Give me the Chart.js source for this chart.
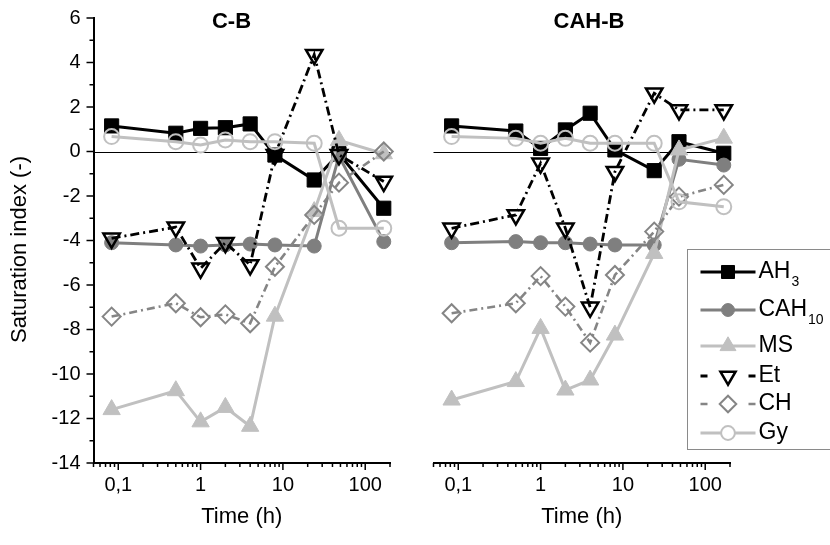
<!DOCTYPE html>
<html>
<head>
<meta charset="utf-8">
<script src="https://cdn.jsdelivr.net/npm/chart.js@4"></script>
<style>
  html, body { margin: 0; padding: 0; background: #fff; }
  #wrap { position: relative; width: 830px; height: 545px; overflow: hidden; }
  canvas { position: absolute; top: 0; }
</style>
</head>
<body>
<div id="wrap">
  <canvas id="c1" width="415" height="545" style="left:0"></canvas>
  <canvas id="c2" width="415" height="545" style="left:415px"></canvas>
</div>
<script>
// ---------- DATA ----------
const timeH = [0.083, 0.5, 1, 2, 4, 8, 24, 48, 168];

const panelTitles = ['C-B', 'CAH-B'];
const seriesNames = ['AH', 'CAH', 'MS', 'Et', 'CH', 'Gy'];
const seriesSubs  = ['3', '10', '', '', '', ''];

// C-B panel
const AH3_CB   = [1.15, 0.82, 1.04, 1.07, 1.24, -0.16, -1.28, -0.1, -2.55];
const CAH10_CB = [-4.1, -4.2, -4.25, -4.2, -4.16, -4.2, -4.25, -0.2, -4.05];
const MS_CB    = [-11.6, -10.75, -12.15, -11.5, -12.35, -7.4, -2.7, 0.5, -0.1];
const Et_CB    = [-3.9, -3.4, -5.25, -4.1, -5.1, -0.15, 4.35, -0.15, -1.35];
const CH_CB    = [-7.42, -6.82, -7.45, -7.32, -7.72, -5.18, -2.85, -1.4, 0.0];
const Gy_CB    = [0.67, 0.44, 0.29, 0.52, 0.44, 0.44, 0.37, -3.45, -3.45];

// CAH-B panel
const AH3_CAHB   = [1.15, 0.92, 0.14, 0.97, 1.72, 0.07, -0.86, 0.44, -0.08];
const CAH10_CAHB = [-4.1, -4.05, -4.1, -4.1, -4.16, -4.2, -4.2, -0.35, -0.61];
const MS_CAHB    = [-11.17, -10.34, -7.95, -10.72, -10.27, -8.25, -4.58, 0.07, 0.6];
const Et_CAHB    = [-3.45, -2.85, -0.53, -3.45, -7.0, -0.91, 2.62, 1.87, 1.87];
const CH_CAHB    = [-7.27, -6.82, -5.6, -6.97, -8.59, -5.55, -3.6, -2.03, -1.5];
const Gy_CAHB    = [0.67, 0.59, 0.37, 0.59, 0.37, 0.37, 0.37, -2.26, -2.48];

// Axis ticks
const xMajorTicks = [0.1, 1, 10, 100];
const xMajorLabels = ['0,1', '1', '10', '100'];
const xMinorTicks = [0.05, 0.06, 0.07, 0.08, 0.09,
                     0.2, 0.3, 0.4, 0.5, 0.6, 0.7, 0.8, 0.9,
                     2, 3, 4, 5, 6, 7, 8, 9,
                     20, 30, 40, 50, 60, 70, 80, 90, 200];
const xMin = 0.05, xMax = 200;
const yMin = -14, yMax = 6;
const yLabelStep = 2;

const xTitle = 'Time (h)';
const yTitle = 'Saturation index (-)';

// ---------- STYLES ----------
const FONT = '"Liberation Sans", Arial, sans-serif';
const styles = [
  { color: '#000000', pointStyle: 'rect',     radius: 10,  rot: 0,   fill: true,  dash: [],           lw: 3,   pbw: 1 },
  { color: '#7f7f7f', pointStyle: 'circle',   radius: 7,   rot: 0,   fill: true,  dash: [],           lw: 3,   pbw: 1 },
  { color: '#c0c0c0', pointStyle: 'triangle', radius: 10,  rot: 0,   fill: true,  dash: [],           lw: 3,   pbw: 1 },
  { color: '#000000', pointStyle: 'triangle', radius: 9.5, rot: 180, fill: false, dash: [9, 4, 2, 4], lw: 2.8, pbw: 2.5 },
  { color: '#858585', pointStyle: 'rectRot',  radius: 9,   rot: 0,   fill: false, dash: [8, 4, 2, 4], lw: 2.6, pbw: 2 },
  { color: '#c0c0c0', pointStyle: 'circle',   radius: 7.5, rot: 0,   fill: false, dash: [],           lw: 3,   pbw: 2 }
];

function makeDatasets(seriesList) {
  return seriesList.map((vals, i) => {
    const s = styles[i];
    return {
      label: seriesNames[i] + seriesSubs[i],
      data: timeH.map((t, k) => ({ x: t, y: vals[k] })),
      borderColor: s.color,
      backgroundColor: s.fill ? s.color : 'rgba(0,0,0,0)',
      borderWidth: s.lw,
      borderDash: s.dash,
      pointStyle: s.pointStyle,
      pointRadius: s.radius,
      pointRotation: s.rot,
      pointBorderWidth: s.pbw,
      pointBorderColor: s.color,
      pointBackgroundColor: s.fill ? s.color : 'rgba(0,0,0,0)',
      tension: 0,
      clip: false,
      order: seriesList.length - i
    };
  });
}

const allXTicks = xMinorTicks.concat(xMajorTicks).sort((a, b) => a - b);
function xLabel(v) {
  const i = xMajorTicks.findIndex(m => Math.abs(m - v) < 1e-9);
  return i >= 0 ? xMajorLabels[i] : '';
}

// ---------- PLUGIN ----------
const deco = {
  id: 'deco',
  beforeDatasetsDraw(chart) {
    const { ctx, chartArea: a, scales: { y } } = chart;
    const y0 = y.getPixelForValue(0);
    ctx.save();
    ctx.strokeStyle = '#000';
    ctx.lineWidth = 1;
    ctx.beginPath();
    ctx.moveTo(a.left, Math.round(y0) + 0.5);
    ctx.lineTo(a.right, Math.round(y0) + 0.5);
    ctx.stroke();
    ctx.restore();
  },
  afterDraw(chart, args, opts) {
    const { ctx, chartArea: a, scales: { x, y } } = chart;
    ctx.save();
    ctx.strokeStyle = '#000';
    ctx.lineWidth = 1.5;
    ctx.setLineDash([]);
    // x ticks
    x.ticks.forEach(t => {
      const px = x.getPixelForValue(t.value);
      const len = xMajorTicks.some(m => Math.abs(m - t.value) < 1e-9) ? 7 : 4;
      ctx.beginPath();
      ctx.moveTo(px, a.bottom);
      ctx.lineTo(px, a.bottom + len);
      ctx.stroke();
    });
    // y ticks + y title
    if (opts.yTicks) {
      y.ticks.forEach(t => {
        const py = y.getPixelForValue(t.value);
        const len = (t.value % yLabelStep === 0) ? 7 : 4;
        ctx.beginPath();
        ctx.moveTo(a.left - len, py);
        ctx.lineTo(a.left, py);
        ctx.stroke();
      });
      ctx.save();
      ctx.translate(20, (a.top + a.bottom) / 2 + 9);
      ctx.rotate(-Math.PI / 2);
      ctx.fillStyle = '#000';
      ctx.font = '22px ' + FONT;
      ctx.textAlign = 'center';
      ctx.textBaseline = 'middle';
      ctx.fillText(yTitle, 0, 0);
      ctx.restore();
    }
    // panel title
    ctx.fillStyle = '#000';
    ctx.font = 'bold 22px ' + FONT;
    ctx.textAlign = 'center';
    ctx.textBaseline = 'middle';
    ctx.fillText(opts.title, a.left + opts.titleDx, 22);

    // legend
    if (opts.legend) {
      const H = Chart.helpers;
      const bx = a.left + 253, by = 249.5;
      ctx.fillStyle = '#fff';
      ctx.fillRect(bx, by, 300, 200);
      ctx.strokeStyle = '#8a8a8a';
      ctx.lineWidth = 1;
      ctx.strokeRect(Math.round(bx) + 0.5, by, 300, 200);
      const rows = [272, 310, 346, 376, 404, 433];
      chart.data.datasets.forEach((ds, i) => {
        const s = styles[i];
        const ry = rows[i];
        const x1 = bx + 14, x2 = bx + 69, xm = (x1 + x2) / 2;
        ctx.save();
        ctx.strokeStyle = s.color;
        ctx.lineWidth = s.lw;
        ctx.setLineDash(s.dash.length ? [7, 41] : []);
        ctx.beginPath();
        ctx.moveTo(x1, ry);
        ctx.lineTo(x2, ry);
        ctx.stroke();
        ctx.setLineDash([]);
        ctx.fillStyle = s.fill ? s.color : '#fff';
        ctx.strokeStyle = s.color;
        ctx.lineWidth = s.pbw;
        H.drawPoint(ctx, { pointStyle: s.pointStyle, radius: s.radius * 0.92, rotation: s.rot, borderWidth: s.pbw }, xm, ry);
        ctx.restore();
        ctx.fillStyle = '#000';
        ctx.textAlign = 'left';
        ctx.textBaseline = 'middle';
        ctx.font = '23px ' + FONT;
        const tx = x2 + 3;
        ctx.fillText(seriesNames[i], tx, ry);
        if (seriesSubs[i]) {
          const w = ctx.measureText(seriesNames[i]).width;
          ctx.font = '14px ' + FONT;
          ctx.fillText(seriesSubs[i], tx + w + 1, ry + 10);
        }
      });
    }
    ctx.restore();
  }
};

function makeChart(id, seriesList, opts) {
  return new Chart(document.getElementById(id), {
    type: 'line',
    data: { datasets: makeDatasets(seriesList) },
    plugins: [deco],
    options: {
      responsive: false,
      animation: false,
      layout: { padding: opts.padding },
      plugins: {
        legend: { display: false },
        tooltip: { enabled: false },
        deco: { yTicks: opts.yShow, title: opts.title, titleDx: opts.titleDx, legend: opts.legend }
      },
      scales: {
        x: {
          type: 'logarithmic',
          min: xMin, max: xMax,
          afterBuildTicks: (s) => { s.ticks = allXTicks.map(v => ({ value: v })); },
          afterFit: (s) => { s.height = 82; s.paddingLeft = 0; s.paddingRight = 0; },
          grid: { display: false, drawTicks: false },
          border: { display: true, color: '#000', width: 2 },
          ticks: {
            autoSkip: false, maxRotation: 0, padding: 10,
            color: '#000', font: { family: FONT, size: 20 },
            callback: (v) => xLabel(v)
          },
          title: { display: true, text: xTitle, color: '#000', font: { family: FONT, size: 22 }, padding: { top: 0, bottom: 15 } }
        },
        y: {
          type: 'linear',
          display: opts.yShow,
          min: yMin, max: yMax,
          afterFit: (s) => { if (opts.yShow) s.width = 93.5; s.paddingTop = 0; s.paddingBottom = 0; },
          grid: { display: false, drawTicks: false },
          border: { display: true, color: '#000', width: 2 },
          ticks: {
            stepSize: 1, autoSkip: false, padding: 13,
            color: '#000', font: { family: FONT, size: 20 },
            callback: (v) => (v % yLabelStep === 0 ? String(v) : '')
          },
          title: { display: false, text: yTitle }
        }
      }
    }
  });
}

makeChart('c1', [AH3_CB, CAH10_CB, MS_CB, Et_CB, CH_CB, Gy_CB],
  { padding: { left: 0, top: 18, right: 25, bottom: 0 }, yShow: true, title: panelTitles[0], titleDx: 138, legend: false });
makeChart('c2', [AH3_CAHB, CAH10_CAHB, MS_CAHB, Et_CAHB, CH_CAHB, Gy_CAHB],
  { padding: { left: 18.5, top: 18, right: 100, bottom: 0 }, yShow: false, title: panelTitles[1], titleDx: 155.5, legend: true });
</script>
</body>
</html>
